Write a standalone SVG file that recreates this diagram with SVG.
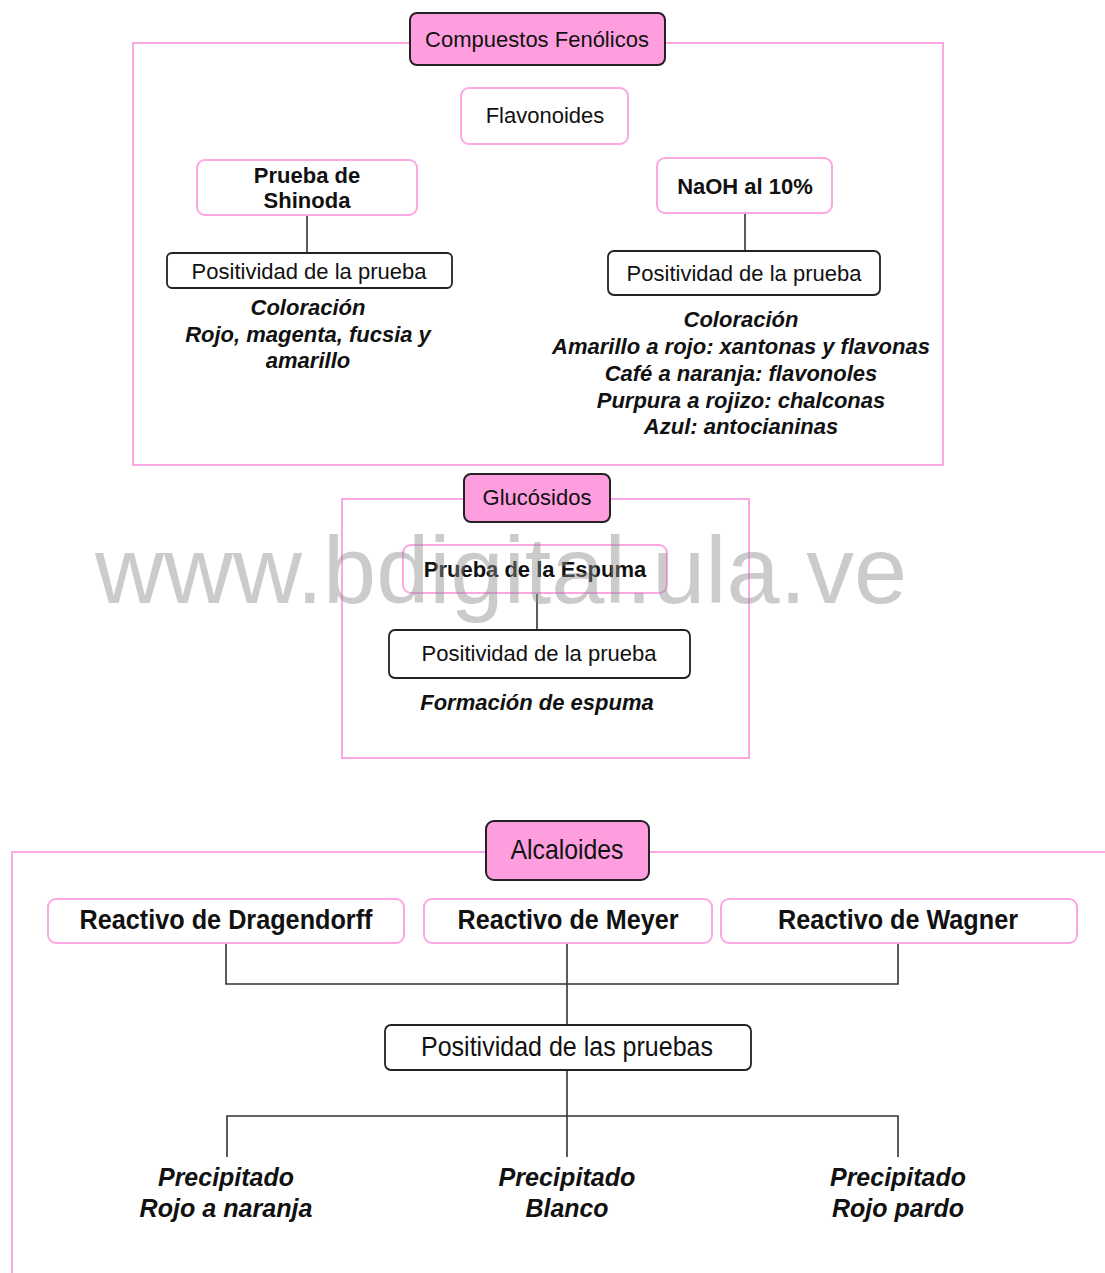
<svg xmlns="http://www.w3.org/2000/svg" width="1105" height="1273" viewBox="0 0 1105 1273">
  <style>
    .frame { fill: none; stroke: #fca6e2; stroke-width: 2; }
    .head { fill: #fe9ede; stroke: #222; stroke-width: 2; }
    .pinkbox { fill: #fff; stroke: #fca6e2; stroke-width: 2; }
    .darkbox { fill: #fff; stroke: #222; stroke-width: 1.8; }
    .wire { fill: none; stroke: #333; stroke-width: 1.6; }
    text { font-family: "Liberation Sans", Arial, sans-serif; fill: #111; text-anchor: middle; }
    .t22 { font-size: 22px; }
    .b22 { font-size: 22px; font-weight: bold; }
    .bi22 { font-size: 22px; font-weight: bold; font-style: italic; }
    .n28 { font-size: 28px; }
    .nb27 { font-size: 27px; font-weight: bold; }
    .nbi25 { font-size: 25px; font-weight: bold; font-style: italic; }
    .mark { font-size: 95px; fill: #8c8c8c; fill-opacity: 0.45; text-anchor: start; }
  </style>

  <rect width="1105" height="1273" fill="#fff"/>

  <!-- section frames -->
  <g id="frames">
    <rect class="frame" x="133" y="43" width="810" height="422"/>
    <rect class="frame" x="342" y="499" width="407" height="259"/>
    <path class="frame" d="M12,1273 V852 H1105"/>
  </g>

  <!-- connectors -->
  <g id="connectors">
    <line class="wire" x1="307" y1="215" x2="307" y2="253"/>
    <line class="wire" x1="745" y1="213" x2="745" y2="251"/>
    <line class="wire" x1="537" y1="593" x2="537" y2="630"/>
    <path class="wire" d="M226,943 V984 H898 V943"/>
    <line class="wire" x1="567" y1="943" x2="567" y2="1024"/>
    <line class="wire" x1="567" y1="1071" x2="567" y2="1157"/>
    <path class="wire" d="M227,1157 V1116 H898 V1157"/>
  </g>

  <!-- Compuestos Fenólicos -->
  <g id="compuestos">
    <rect class="head" x="410" y="13" width="255" height="52" rx="7"/>
    <text class="t22" x="537" y="47">Compuestos Fenólicos</text>
  </g>
  <g id="flavonoides">
    <rect class="pinkbox" x="461" y="88" width="167" height="56" rx="8"/>
    <text class="t22" x="545" y="123">Flavonoides</text>
  </g>
  <g id="shinoda">
    <rect class="pinkbox" x="197" y="160" width="220" height="55" rx="8"/>
    <text class="b22" x="307" y="183">Prueba de</text>
    <text class="b22" x="307" y="208">Shinoda</text>
  </g>
  <g id="shinoda-positividad">
    <rect class="darkbox" x="167" y="253" width="285" height="35" rx="5"/>
    <text class="t22" x="309" y="279">Positividad de la prueba</text>
  </g>
  <g id="shinoda-resultado">
    <text class="bi22" x="308" y="315">Coloración</text>
    <text class="bi22" x="308" y="342">Rojo, magenta, fucsia y</text>
    <text class="bi22" x="308" y="368">amarillo</text>
  </g>
  <g id="naoh">
    <rect class="pinkbox" x="657" y="158" width="175" height="55" rx="8"/>
    <text class="b22" x="745" y="194">NaOH al 10%</text>
  </g>
  <g id="naoh-positividad">
    <rect class="darkbox" x="608" y="251" width="272" height="44" rx="6"/>
    <text class="t22" x="744" y="281">Positividad de la prueba</text>
  </g>
  <g id="naoh-resultado">
    <text class="bi22" x="741" y="327">Coloración</text>
    <text class="bi22" x="741" y="354">Amarillo a rojo: xantonas y flavonas</text>
    <text class="bi22" x="741" y="381">Café a naranja: flavonoles</text>
    <text class="bi22" x="741" y="408">Purpura a rojizo: chalconas</text>
    <text class="bi22" x="741" y="434">Azul: antocianinas</text>
  </g>

  <!-- Glucósidos -->
  <g id="glucosidos">
    <rect class="head" x="464" y="474" width="146" height="48" rx="7"/>
    <text class="t22" x="537" y="505">Glucósidos</text>
  </g>
  <g id="espuma">
    <rect class="pinkbox" x="403" y="545" width="264" height="48" rx="8" fill-opacity="0"/>
    <text class="b22" x="535" y="577">Prueba de la Espuma</text>
  </g>
  <g id="espuma-positividad">
    <rect class="darkbox" x="389" y="630" width="301" height="48" rx="6"/>
    <text class="t22" x="539" y="661">Positividad de la prueba</text>
  </g>
  <g id="espuma-resultado">
    <text class="bi22" x="537" y="710">Formación de espuma</text>
  </g>

  <!-- Alcaloides -->
  <g id="alcaloides">
    <rect class="head" x="486" y="821" width="163" height="59" rx="8"/>
    <text class="n28" x="567" y="859" textLength="113" lengthAdjust="spacingAndGlyphs">Alcaloides</text>
  </g>
  <g id="dragendorff">
    <rect class="pinkbox" x="48" y="899" width="356" height="44" rx="8"/>
    <text class="nb27" x="226" y="929" textLength="293" lengthAdjust="spacingAndGlyphs">Reactivo de Dragendorff</text>
  </g>
  <g id="meyer">
    <rect class="pinkbox" x="424" y="899" width="288" height="44" rx="8"/>
    <text class="nb27" x="568" y="929" textLength="221" lengthAdjust="spacingAndGlyphs">Reactivo de Meyer</text>
  </g>
  <g id="wagner">
    <rect class="pinkbox" x="721" y="899" width="356" height="44" rx="8"/>
    <text class="nb27" x="898" y="929" textLength="240" lengthAdjust="spacingAndGlyphs">Reactivo de Wagner</text>
  </g>
  <g id="positividad-pruebas">
    <rect class="darkbox" x="385" y="1025" width="366" height="45" rx="6"/>
    <text class="n28" x="567" y="1056" textLength="292" lengthAdjust="spacingAndGlyphs">Positividad de las pruebas</text>
  </g>
  <g id="resultado-dragendorff">
    <text class="nbi25" x="226" y="1186" textLength="136" lengthAdjust="spacingAndGlyphs">Precipitado</text>
    <text class="nbi25" x="226" y="1217" textLength="173" lengthAdjust="spacingAndGlyphs">Rojo a naranja</text>
  </g>
  <g id="resultado-meyer">
    <text class="nbi25" x="567" y="1186" textLength="137" lengthAdjust="spacingAndGlyphs">Precipitado</text>
    <text class="nbi25" x="567" y="1217" textLength="83" lengthAdjust="spacingAndGlyphs">Blanco</text>
  </g>
  <g id="resultado-wagner">
    <text class="nbi25" x="898" y="1186" textLength="136" lengthAdjust="spacingAndGlyphs">Precipitado</text>
    <text class="nbi25" x="898" y="1217" textLength="132" lengthAdjust="spacingAndGlyphs">Rojo pardo</text>
  </g>

  <!-- site watermark -->
  <text class="mark" x="95" y="603" textLength="812" lengthAdjust="spacingAndGlyphs">www.bdigital.ula.ve</text>
</svg>
